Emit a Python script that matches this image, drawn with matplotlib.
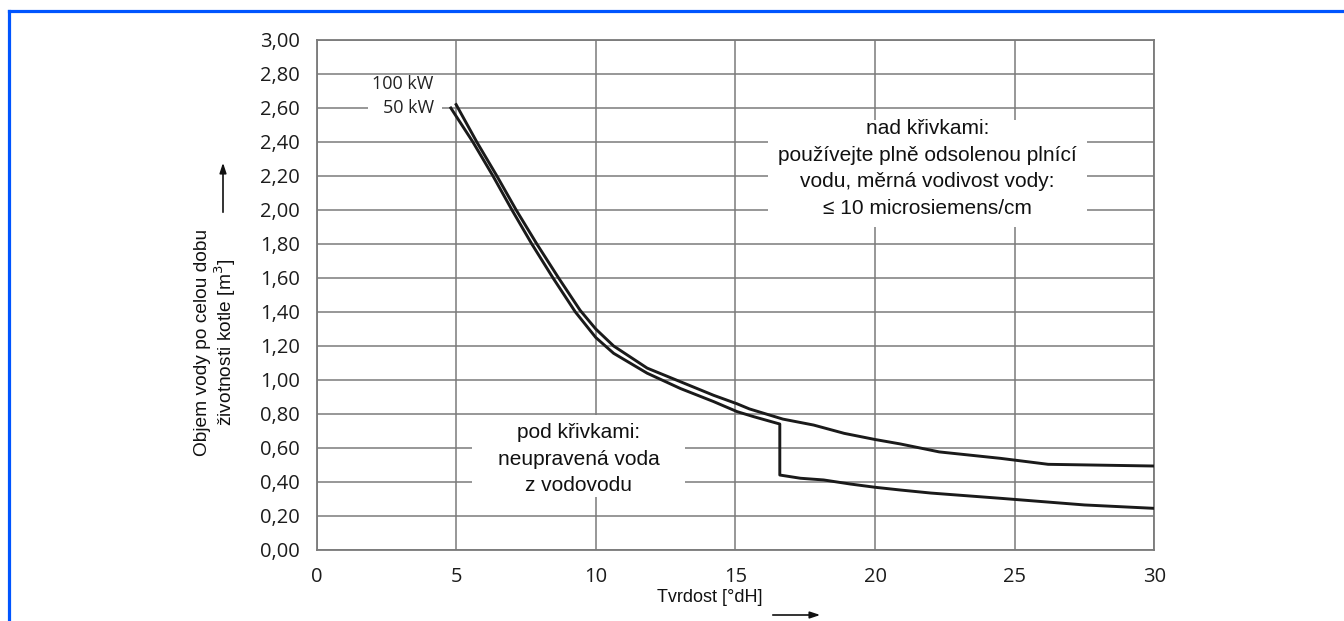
import matplotlib
matplotlib.use("Agg")
import matplotlib.pyplot as plt
from matplotlib.patches import Rectangle
from matplotlib.lines import Line2D

# Water hardness [°dH] vs. permissible fill water volume [m3]
hardness_100kw = [5.0, 5.74, 6.46, 7.15, 7.89, 8.67, 9.44, 10.0, 10.64, 11.84, 13.03,
                  14.22, 15.06, 15.5, 16.7, 17.8, 18.9, 20.0, 20.9, 22.3, 24.5, 26.2, 30.0]
volume_100kw = [2.62, 2.40, 2.20, 2.00, 1.80, 1.60, 1.41, 1.30, 1.20, 1.07, 0.99,
                0.91, 0.86, 0.83, 0.77, 0.735, 0.686, 0.65, 0.624, 0.577, 0.539, 0.504, 0.494]

hardness_50kw = [4.81, 5.6, 6.32, 7.0, 7.71, 8.47, 9.27, 10.0, 10.64, 11.84, 13.03,
                 14.22, 15.06, 15.66, 16.59, 16.59, 17.33, 18.16, 19.12, 20.0, 20.9,
                 22.0, 24.5, 27.5, 30.0]
volume_50kw = [2.60, 2.40, 2.20, 2.00, 1.80, 1.60, 1.40, 1.25, 1.157, 1.04, 0.95,
               0.873, 0.814, 0.784, 0.741, 0.441, 0.422, 0.412, 0.388, 0.369, 0.353,
               0.335, 0.304, 0.265, 0.245]

x_ticks = [0, 5, 10, 15, 20, 25, 30]
y_ticks = [0.0, 0.2, 0.4, 0.6, 0.8, 1.0, 1.2, 1.4, 1.6, 1.8, 2.0, 2.2, 2.4, 2.6, 2.8, 3.0]
y_tick_labels = [f"{v:.2f}".replace(".", ",") for v in y_ticks]

label_100 = "100 kW"
label_50 = "50 kW"
text_above = "nad křivkami:\npoužívejte plně odsolenou plnící\nvodu, měrná vodivost vody:\n≤ 10 microsiemens/cm"
text_below = "pod křivkami:\nneupravená voda\nz vodovodu"
x_label = "Tvrdost [°dH]"
y_label = "Objem vody po celou dobu\nživotnosti kotle [m$^3$]"

W, H = 1344, 621
fig = plt.figure(figsize=(W / 100, H / 100), dpi=100)
ax = fig.add_axes([316.5 / W, (H - 550) / H, (1154.3 - 316.5) / W, 510 / H])

grid_col = "#7a7a7a"
ax.set_xlim(0, 30)
ax.set_ylim(0, 3.0)
ax.set_xticks(x_ticks)
ax.set_xticklabels([str(v) for v in x_ticks], family="Open Sans", fontsize=14.5, color="#1c1c1c")
ax.set_yticks(y_ticks)
ax.set_yticklabels(y_tick_labels, family="Open Sans", fontsize=14.5, color="#1c1c1c")
ax.tick_params(length=0, pad=12)
ax.grid(True, color=grid_col, linewidth=1.1, zorder=0)
ax.set_axisbelow(True)
for s in ax.spines.values():
    s.set_color(grid_col)
    s.set_linewidth(1.3)

# white panels behind the annotations
ax.add_patch(Rectangle((16.18, 1.90), 27.58 - 16.18, 2.53 - 1.90, facecolor="white",
                       edgecolor="none", zorder=1))
ax.add_patch(Rectangle((5.57, 0.312), 13.21 - 5.57, 0.795 - 0.312, facecolor="white",
                       edgecolor="none", zorder=1))
ax.add_patch(Rectangle((1.85, 2.55), 4.5 - 1.85, 0.1, facecolor="white",
                       edgecolor="none", zorder=1))

ax.plot(hardness_100kw, volume_100kw, color="#1a1a1a", linewidth=2.1, zorder=3,
        solid_joinstyle="round")
ax.plot(hardness_50kw, volume_50kw, color="#1a1a1a", linewidth=2.1, zorder=3,
        solid_joinstyle="round")

ax.text(4.2, 2.74, label_100, ha="right", va="center", family="Open Sans",
        fontsize=13, color="#222222", zorder=4)
ax.text(4.2, 2.60, label_50, ha="right", va="center", family="Open Sans",
        fontsize=13, color="#222222", zorder=4)

ax.text(21.88, 2.245, text_above, ha="center", va="center", family="Liberation Sans",
        fontsize=15, linespacing=1.5, color="#111111", zorder=4)
ax.text(9.39, 0.535, text_below, ha="center", va="center", family="Liberation Sans",
        fontsize=15, linespacing=1.5, color="#111111", zorder=4)

# axis titles with direction arrows
fig.text(710 / W, 1 - 597 / H, x_label, ha="center", va="center",
         family="Liberation Sans", fontsize=13, color="#111111")
fig.text(216 / W, 1 - 342 / H, y_label, ha="center", va="center", rotation=90,
         family="Liberation Sans", fontsize=13.8, color="#111111", linespacing=1.05)

ax.annotate("", xy=(823 / W, 1 - 615 / H), xytext=(770 / W, 1 - 615 / H),
            xycoords="figure fraction", textcoords="figure fraction",
            arrowprops=dict(arrowstyle="-|>,head_length=0.6,head_width=0.2",
                            color="#111111", lw=1.2))
ax.annotate("", xy=(223 / W, 1 - 160 / H), xytext=(223 / W, 1 - 215 / H),
            xycoords="figure fraction", textcoords="figure fraction",
            arrowprops=dict(arrowstyle="-|>,head_length=0.6,head_width=0.2",
                            color="#111111", lw=1.2))

# blue frame along the top and left edges
blue = "#0055ff"
fig.add_artist(Line2D([8.5 / W, 1.0], [1 - 10.5 / H, 1 - 10.5 / H], color=blue,
                      linewidth=2.3, transform=fig.transFigure, solid_capstyle="projecting"))
fig.add_artist(Line2D([8.5 / W, 8.5 / W], [0.0, 1 - 10.5 / H], color=blue,
                      linewidth=2.3, transform=fig.transFigure, solid_capstyle="projecting"))

fig.savefig("out.png", dpi=100, facecolor="white")
